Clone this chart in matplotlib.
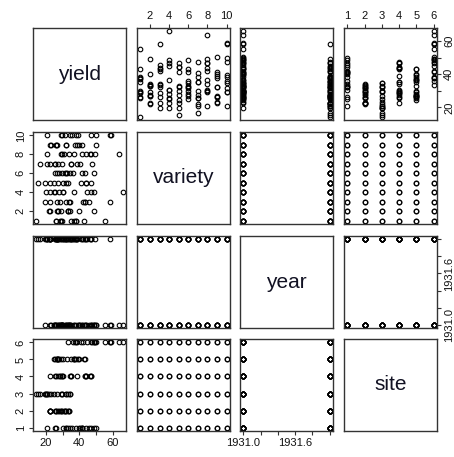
import numpy as np
import matplotlib
matplotlib.use("Agg")
import matplotlib.pyplot as plt

plt.rcParams['font.family'] = ['Liberation Sans', 'DejaVu Sans']

# barley data: rows = variety (alphabetical), cols = site (alphabetical)
variety_names = ["Glabron", "Manchuria", "No. 457", "No. 462", "No. 475",
                 "Peatland", "Svansota", "Trebi", "Velvet", "Wisconsin No. 38"]
site_names = ["Crookston", "Duluth", "Grand Rapids", "Morris",
              "University Farm", "Waseca"]
years = [1931, 1932]

yield_1931 = [
    [38.13333, 29.66667, 29.13333, 28.76667, 43.06666, 55.20000],
    [39.93333, 28.96667, 32.96667, 27.43334, 27.00000, 48.86667],
    [45.66667, 33.60000, 32.16667, 28.70000, 43.26667, 58.10000],
    [48.56666, 28.10000, 24.93334, 30.36667, 36.60000, 65.76670],
    [44.10000, 33.06666, 19.70000, 22.60000, 24.66667, 46.76667],
    [41.60000, 32.00000, 34.70000, 29.86667, 32.76667, 48.56666],
    [40.46667, 25.70000, 29.66667, 25.76667, 35.13333, 47.33333],
    [46.93333, 33.93333, 29.76667, 43.76667, 36.56666, 63.83330],
    [41.33333, 26.30000, 23.03333, 26.13333, 39.90000, 50.23333],
    [49.86667, 31.60000, 34.46667, 29.46667, 39.30000, 58.80000],
]
yield_1932 = [
    [26.16667, 25.86667, 14.43333, 35.13333, 36.80000, 37.73333],
    [32.96667, 22.56667, 22.13333, 34.36666, 26.90000, 33.46667],
    [34.33333, 22.70000, 19.46667, 43.53334, 26.43334, 42.20000],
    [30.53333, 22.50000, 19.90000, 47.00000, 25.56667, 44.70000],
    [32.13333, 27.36667, 15.23333, 44.23333, 30.00000, 41.26667],
    [25.23333, 31.36667, 26.76667, 43.20000, 28.06667, 36.03333],
    [20.63333, 22.23333, 16.63333, 35.03333, 27.43334, 38.50000],
    [41.83333, 30.60000, 20.63333, 46.63333, 29.06667, 49.23330],
    [32.06666, 22.46667, 32.23333, 38.83333, 26.80000, 37.40000],
    [35.90000, 29.33333, 20.66667, 47.16667, 38.00000, 58.16667],
]

# long format
yld, var, yr, site = [], [], [], []
for y, table in zip(years, [yield_1931, yield_1932]):
    for vi, row in enumerate(table):
        for si, v in enumerate(row):
            yld.append(v); var.append(vi + 1); yr.append(y); site.append(si + 1)

names = ["yield", "variety", "year", "site"]
data = {"yield": np.array(yld), "variety": np.array(var, float),
        "year": np.array(yr, float), "site": np.array(site, float)}

ticks = {
    "yield": [20, 30, 40, 50, 60],
    "variety": [2, 4, 6, 8, 10],
    "year": list(np.round(np.arange(1931.0, 1932.01, 0.2), 1)),
    "site": [1, 2, 3, 4, 5, 6],
}
ticklabels = {
    "yield": ["20", "", "40", "", "60"],
    "variety": ["2", "4", "6", "8", "10"],
    "year": ["1931.0", "", "", "1931.6", "", ""],
    "site": ["1", "2", "3", "4", "5", "6"],
}

def lims(a):
    lo, hi = a.min(), a.max()
    p = 0.04 * (hi - lo)
    return lo - p, hi + p

W, H = 454, 457
fig = plt.figure(figsize=(W / 100, H / 100), dpi=100)

col_left = [33, 137, 240, 344]
row_top = [28, 132, 236, 339]
pw, ph = 93, 92
fc = "#333333"

for i, rn in enumerate(names):      # row -> y variable
    for j, cn in enumerate(names):  # col -> x variable
        ax = fig.add_axes([col_left[j] / W, 1 - (row_top[i] + ph) / H, pw / W, ph / H])
        for s in ax.spines.values():
            s.set_color(fc)
            s.set_linewidth(1.0)
        ax.set_xlim(*lims(data[cn]))
        ax.set_ylim(*lims(data[rn]))
        ax.set_xticks([]); ax.set_yticks([])
        if i == j:
            ax.text(0.5, 0.5, rn, transform=ax.transAxes, ha="center",
                    va="center", fontsize=15, color="#111122")
        else:
            ax.plot(data[cn], data[rn], linestyle="none", marker="o", ms=3.3,
                    mfc="none", mec="black", mew=0.8)
        tp = dict(length=3.2, width=0.8, color=fc, labelsize=8, pad=2,
                  labelcolor="#111111")
        # x axes: top on cols 2,4 (row 0), bottom on cols 1,3 (row 3)
        if i == 0 and j % 2 == 1:
            ax.xaxis.tick_top()
            ax.set_xticks(ticks[cn]); ax.set_xticklabels(ticklabels[cn])
            ax.tick_params(axis="x", **tp)
        if i == 3 and j % 2 == 0:
            ax.set_xticks(ticks[cn]); ax.set_xticklabels(ticklabels[cn])
            ax.tick_params(axis="x", **tp)
        # y axes: left on rows 2,4 (col 0), right on rows 1,3 (col 3)
        if j == 0 and i % 2 == 1:
            ax.set_yticks(ticks[rn])
            ax.set_yticklabels(ticklabels[rn], rotation=90, va="center")
            ax.tick_params(axis="y", **tp)
        if j == 3 and i % 2 == 0:
            ax.yaxis.tick_right()
            ax.set_yticks(ticks[rn])
            ax.set_yticklabels(ticklabels[rn], rotation=90, va="center")
            ax.tick_params(axis="y", **tp)

fig.savefig("out.png", dpi=100)
